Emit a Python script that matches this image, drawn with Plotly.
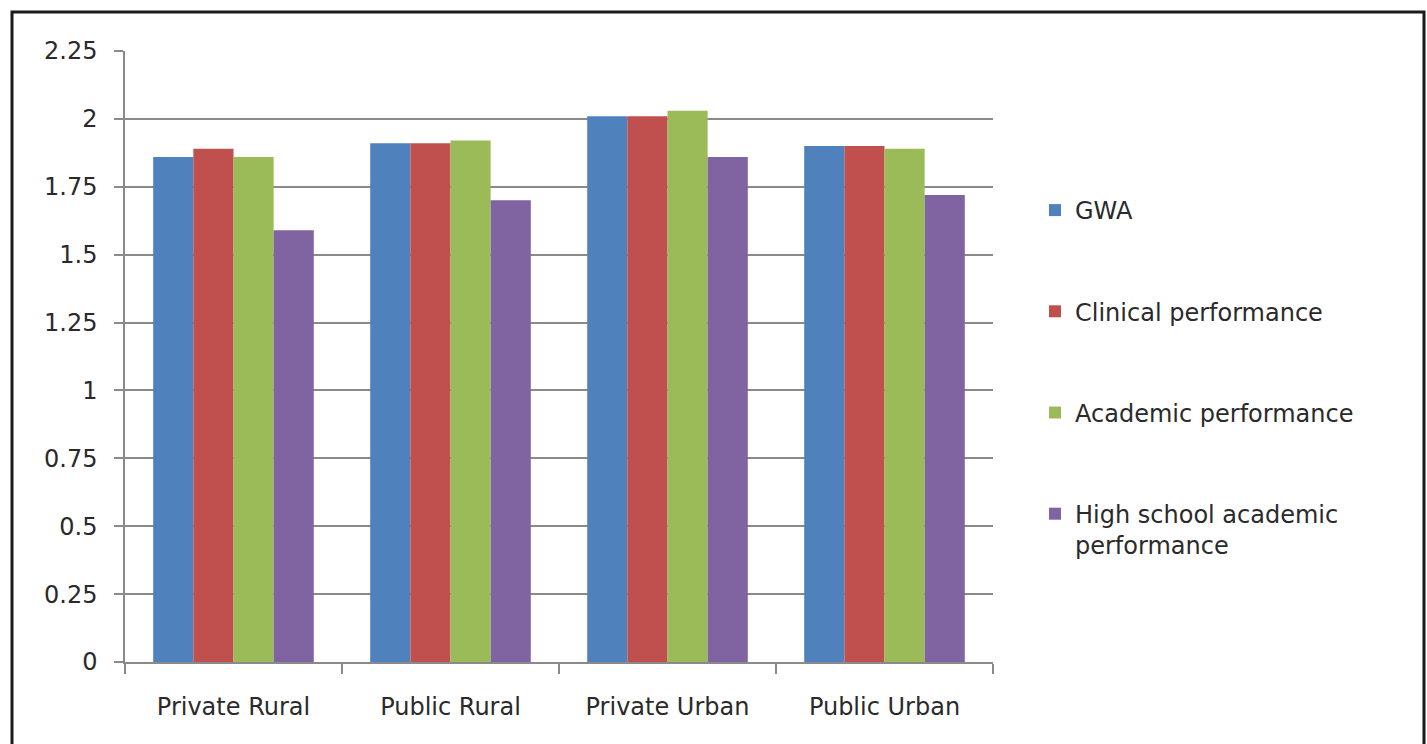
import plotly.graph_objects as go

categories = ["Private Rural", "Public Rural", "Private Urban", "Public Urban"]
gwa = [1.86, 1.91, 2.01, 1.90]
clinical = [1.89, 1.91, 2.01, 1.90]
academic = [1.86, 1.92, 2.03, 1.89]
high_school = [1.59, 1.70, 1.86, 1.72]

series_names = ["GWA", "Clinical performance", "Academic performance",
                "High school academic<br>performance"]
series_values = [gwa, clinical, academic, high_school]
colors = ["#4F81BD", "#C0504D", "#9BBB59", "#8064A2"]

y_tickvals = [0, 0.25, 0.5, 0.75, 1, 1.25, 1.5, 1.75, 2, 2.25]
y_ticktext = ["0", "0.25", "0.5", "0.75", "1", "1.25", "1.5", "1.75", "2", "2.25"]

W, H = 1427, 744
ml, mr, mt, mb = 125, W - 993, 51, H - 662
pw, ph = W - ml - mr, H - mt - mb

fig = go.Figure()
for i, (name, vals, col) in enumerate(zip(series_names, series_values, colors)):
    fig.add_trace(go.Bar(x=categories, y=vals, name=name, marker_color=col,
                         marker_line_width=0, legendgroup=str(i)))

font_family = "DejaVu Sans"
txt_color = "#2a2a2a"
grid_color = "#8a8a8a"

def px_x(p):
    return (p - ml) / pw

def px_y(p):
    return (H - mb - p) / ph

fig.update_layout(
    width=W, height=H,
    margin=dict(l=ml, r=mr, t=mt, b=mb, pad=0),
    paper_bgcolor="white", plot_bgcolor="white",
    barmode="group", bargap=0.26, bargroupgap=0,
    font=dict(family=font_family, size=24, color=txt_color),
    legend=dict(x=px_x(1035), xanchor="left", y=px_y(188), yanchor="top",
                font=dict(family=font_family, size=24, color=txt_color),
                tracegroupgap=67, valign="top", bgcolor="rgba(0,0,0,0)"),
    showlegend=True,
    shapes=[dict(type="rect", xref="paper", yref="paper",
                 x0=px_x(12), x1=px_x(1424), y0=px_y(760), y1=px_y(12),
                 line=dict(color="#1a1a1a", width=3), fillcolor="rgba(0,0,0,0)")],
)

fig.update_xaxes(
    type="category", showgrid=False, showline=True, linecolor=grid_color, linewidth=1.5,
    ticks="outside", tickson="boundaries", ticklen=10, tickcolor=grid_color, tickwidth=1.5,
    tickfont=dict(family=font_family, size=24, color=txt_color),
    ticklabelstandoff=22,
    range=[-0.5, 3.5],
)
fig.update_yaxes(
    range=[0, 2.25], tickvals=y_tickvals, ticktext=y_ticktext,
    showgrid=True, gridcolor=grid_color, gridwidth=1.5,
    showline=True, linecolor=grid_color, linewidth=1.5,
    ticks="outside", ticklen=9, tickcolor=grid_color, tickwidth=1.5,
    tickfont=dict(family=font_family, size=24, color=txt_color),
    ticklabelstandoff=12,
    zeroline=False,
)

fig.write_html("out.html")
